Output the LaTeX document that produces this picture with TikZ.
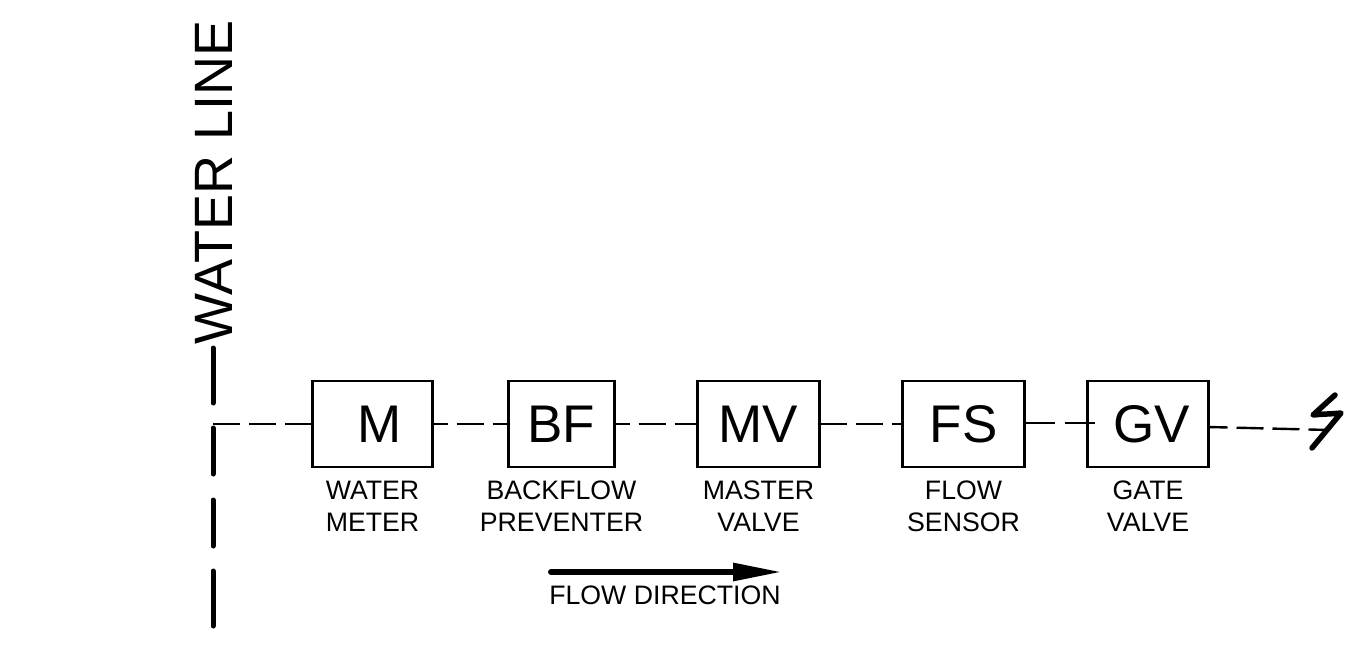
\documentclass[tikz,border=0pt]{standalone}
\usepackage{fontspec}
\setmainfont{Liberation Sans}
\usetikzlibrary{positioning,calc,arrows.meta}

\begin{document}
\begin{tikzpicture}[
  x=1pt, y=-1pt,
  device/.style={rectangle, draw, line width=2.4pt, outer sep=0pt, inner sep=0pt, minimum height=86pt, font=\fontsize{53}{53}\selectfont},
  caption/.style={inner sep=0pt, align=center, font=\fontsize{26.7}{32}\selectfont},
  pipe/.style={line width=2.4pt, dash pattern=on 27pt off 9pt},
  main/.style={line width=5pt, line cap=round}
]
\useasboundingbox (0,0) rectangle (1348,645);
\node[device, minimum width=120pt] (meter) at (372.5,424) {\hspace*{15pt}M};
\node[device, minimum width=106pt, right=76pt of meter] (bf) {BF};
\node[device, minimum width=122pt, right=83pt of bf] (mv) {MV};
\node[device, minimum width=122pt, right=83pt of mv] (fs) {FS};
\node[device, minimum width=121pt, right=63pt of fs] (gv) {\hspace*{7pt}GV};
\node[caption, below=14pt of meter] (meter_l) {WATER\\METER};
\node[caption, below=14pt of bf] (bf_l) {BACKFLOW\\PREVENTER};
\node[caption, below=14pt of mv] (mv_l) {MASTER\\VALVE};
\node[caption, below=14pt of fs] (fs_l) {FLOW\\SENSOR};
\node[caption, below=14pt of gv] (gv_l) {GATE\\VALVE};
\node[rotate=90, anchor=west, inner sep=0pt, font=\fontsize{54}{54}\selectfont] (wl_l) at (214,345) {WATER LINE};
\coordinate (wl_top) at (213,348);
\coordinate (wl_tee) at (213,424);
\coordinate (wl_bot) at (213,629);
\coordinate (end) at (1329,430);
\draw[main, dash pattern=on 55pt off 25pt on 46pt off 26pt on 46pt off 25pt on 55pt] (wl_top) -- (wl_bot);
\draw[pipe] (wl_tee) -- (meter.west);
\draw[pipe, dash phase=12pt] (meter.east) -- (bf.west);
\draw[pipe, dash phase=12pt] (bf.east) -- (mv.west);
\draw[pipe] (mv.east) -- (fs.west);
\draw[pipe, dash pattern=on 30pt off 10pt] ([yshift=1pt]fs.east) -- ($(gv.west)+(7,-1)$);
\draw[pipe, dash phase=8pt] ([yshift=-3pt]gv.east) -- (end);
\draw[line width=5.5pt, line cap=round, line join=round] (1335,395) -- (1313,415) .. controls (1322,414) and (1332,414) .. (1341,413) -- (1312,448);
\coordinate (flow_a) at (551,572);
\coordinate (flow_b) at (782,572);
\draw[line width=6pt, line cap=round, -{Triangle[length=49pt,width=17pt]}] (flow_a) -- (flow_b);
\node[caption, anchor=north] (flow_l) at (665,586) {FLOW DIRECTION};
\end{tikzpicture}
\end{document}
